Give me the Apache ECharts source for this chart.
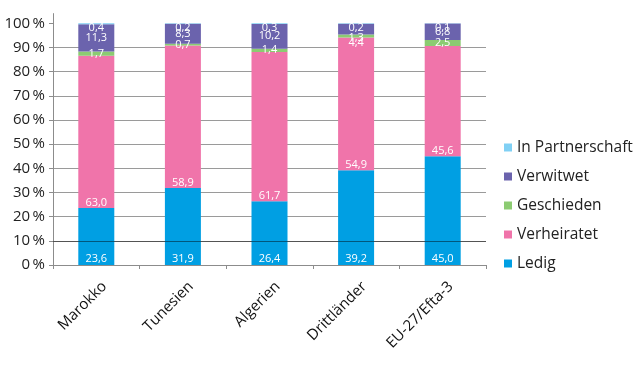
<!DOCTYPE html>
<html><head><meta charset="utf-8">
<script src="https://cdn.jsdelivr.net/npm/echarts@6/dist/echarts.min.js"></script>
<style>html,body{margin:0;padding:0;background:#fff}#c{width:640px;height:366px}</style>
</head><body><div id="c"></div>
<script>
var categories = ['Marokko', 'Tunesien', 'Algerien', 'Drittländer', 'EU-27/Efta-3'];
var ledig = [23.6, 31.9, 26.4, 39.2, 45.0];
var verheiratet = [63.0, 58.9, 61.7, 54.9, 45.6];
var geschieden = [1.7, 0.7, 1.4, 1.3, 2.5];
var verwitwet = [11.3, 8.3, 10.2, 4.4, 6.8];
var partnerschaft = [0.4, 0.2, 0.3, 0.2, 0.1];
var yTicks = [0, 10, 20, 30, 40, 50, 60, 70, 80, 90, 100];

var font = 'Open Sans';
function fmt(p) { return p.value.toFixed(1).replace('.', ','); }
function lbl(pos, extra) {
  var o = { show: true, position: pos, color: '#fff', fontFamily: font, fontSize: 11, formatter: fmt, distance: 1 };
  for (var k in extra) o[k] = extra[k];
  return o;
}
function ser(name, data, color, label) {
  return { name: name, type: 'bar', stack: 'a', data: data, barWidth: 36,
    itemStyle: { color: color }, label: label, emphasis: { disabled: true } };
}
// label placement tweaks for the crowded Drittländer column (as in the original)
function withOffset(values, idx, off) {
  return values.map(function (v, i) {
    return i === idx ? { value: v, label: { offset: off } } : v;
  });
}
var series = [
  ser('Ledig', ledig, '#009fe3', lbl('insideBottom', {})),
  ser('Verheiratet', verheiratet, '#f074aa', lbl('insideBottom', { distance: 0 })),
  ser('Geschieden', withOffset(geschieden, 3, [0, 1.5]), '#8ccb72', lbl('inside', {})),
  ser('Verwitwet', withOffset(verwitwet, 3, [0, 14]), '#6b63ad', lbl('inside', {})),
  ser('In Partnerschaft', partnerschaft, '#80d0f4', lbl('inside', { offset: [0, 4] }))
];
series[4].markLine = { silent: true, symbol: 'none', label: { show: false },
  lineStyle: { color: 'rgba(0,0,0,0.45)', type: 'solid', width: 1 }, data: [{ yAxis: 10 }] };

var chart = echarts.init(document.getElementById('c'));
chart.setOption({
  animation: false,
  textStyle: { fontFamily: font },
  grid: { left: 53, right: 154, top: 13.6, bottom: 101 },
  legend: {
    orient: 'vertical', left: 499, top: 134.5, itemWidth: 8, itemHeight: 8, itemGap: 13,
    icon: 'rect', data: ['In Partnerschaft', 'Verwitwet', 'Geschieden', 'Verheiratet', 'Ledig'],
    textStyle: { fontFamily: font, fontSize: 15.5, color: '#222' }
  },
  xAxis: {
    type: 'category', data: categories,
    axisLine: { lineStyle: { color: '#8c8c8c' } },
    axisTick: { show: true, alignWithLabel: false, length: 4, lineStyle: { color: '#8c8c8c' } },
    axisLabel: { rotate: 45, fontFamily: font, fontSize: 15, color: '#111', margin: 11,
      verticalAlign: 'top', padding: [4, 0, 0, 0] }
  },
  yAxis: {
    type: 'value', min: 0, max: 104, interval: 10,
    axisLine: { show: true, lineStyle: { color: '#8c8c8c' } },
    axisTick: { show: true, length: 4, customValues: yTicks, lineStyle: { color: '#8c8c8c' } },
    axisLabel: { customValues: yTicks, fontFamily: font, fontSize: 15, color: '#222', margin: 8,
      formatter: function (v) { return v + '\u2009%'; } },
    splitLine: { show: true, showMaxLine: false, lineStyle: { color: '#9a9a9a' } }
  },
  series: series
});
</script></body></html>
